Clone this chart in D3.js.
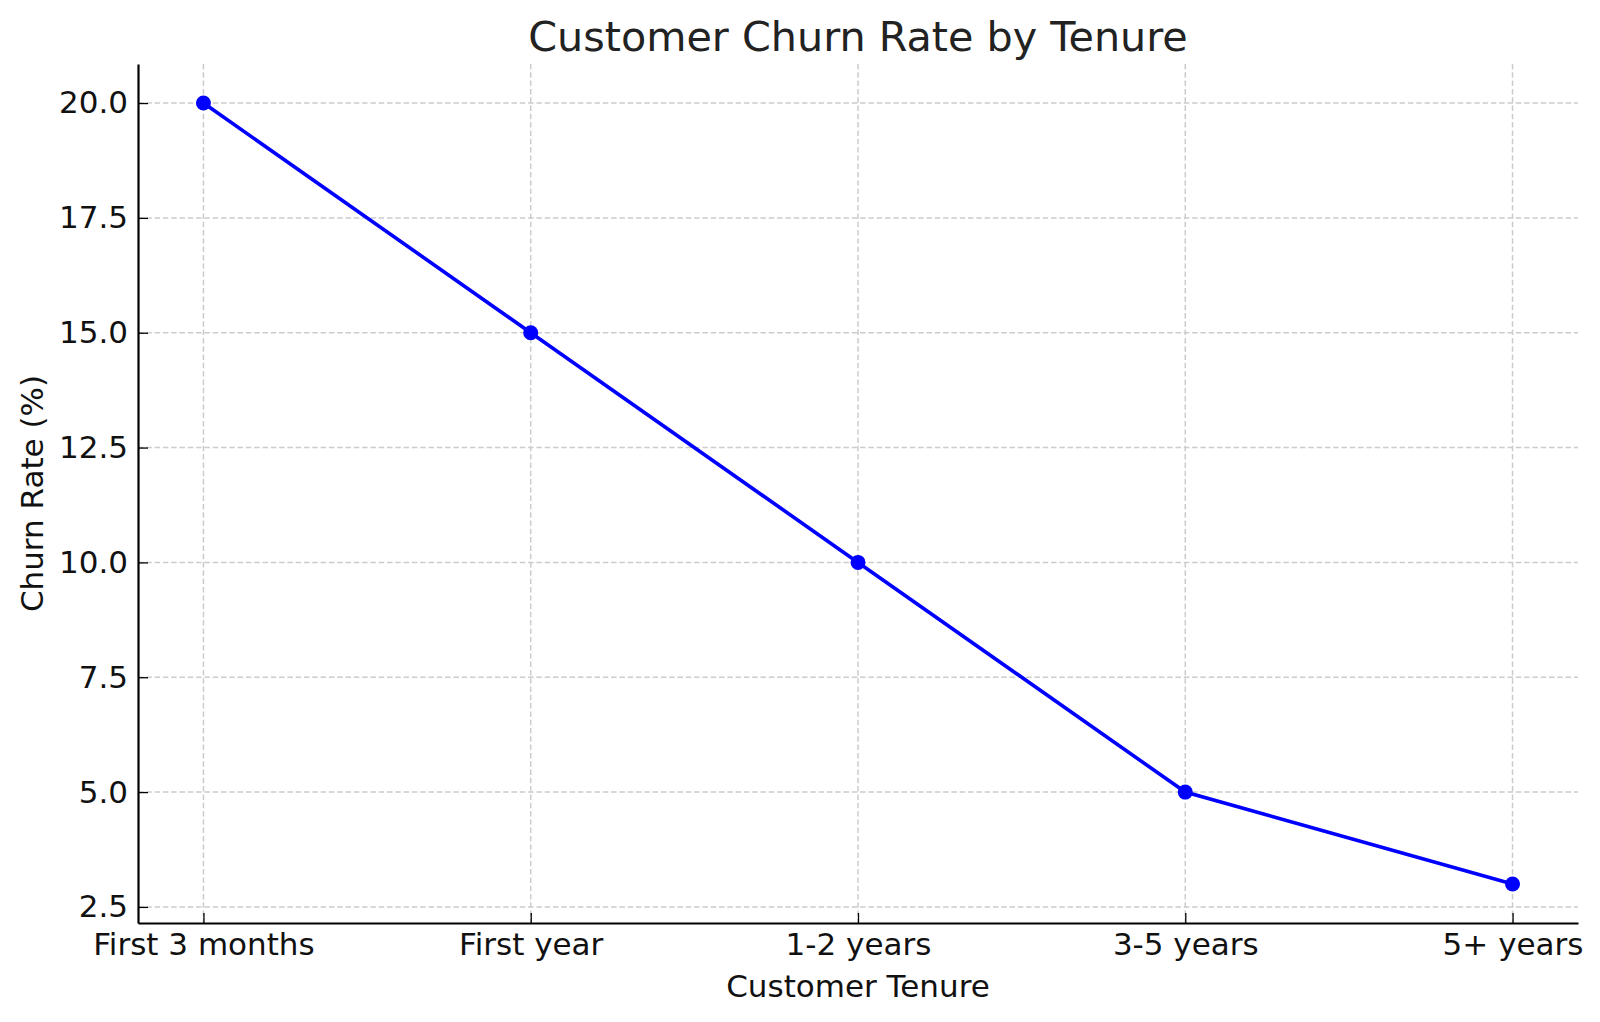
<!DOCTYPE html>
<html>
<head>
<meta charset="utf-8">
<script src="https://cdn.jsdelivr.net/npm/d3@7"></script>
<style>
  body { margin: 0; background: #fff; }
  text { font-family: "DejaVu Sans", sans-serif; }
</style>
</head>
<body>
<script>
// data
var categories = ["First 3 months", "First year", "1-2 years", "3-5 years", "5+ years"];
var churnRate = [20, 15, 10, 5, 3];
var yTicks = [2.5, 5.0, 7.5, 10.0, 12.5, 15.0, 17.5, 20.0];

var W = 1600, H = 1022;
var margin = {top: 64, right: 22, bottom: 99, left: 138};
var width = W - margin.left - margin.right,
    height = H - margin.top - margin.bottom;

var svg = d3.select("body").append("svg")
    .attr("width", W)
    .attr("height", H);

var plot = svg.append("g")
    .attr("transform", "translate(" + margin.left + "," + margin.top + ")");

// matplotlib style 5% padding on both axes
var xScale = d3.scaleLinear()
    .domain([-0.2, categories.length - 1 + 0.2])
    .range([0, width]);

var yMin = d3.min(churnRate), yMax = d3.max(churnRate);
var pad = (yMax - yMin) * 0.05;
var yScale = d3.scaleLinear()
    .domain([yMin - pad, yMax + pad])
    .range([height, 0]);

// grid
var grid = plot.append("g").attr("class", "grid");
grid.selectAll("line.h")
    .data(yTicks)
    .enter().append("line")
    .attr("x1", 0).attr("x2", width)
    .attr("y1", function(d) { return yScale(d); })
    .attr("y2", function(d) { return yScale(d); })
    .style("stroke", "#cccccc")
    .style("stroke-width", 1.5)
    .style("stroke-dasharray", "5.5,2.8");
grid.selectAll("line.v")
    .data(categories)
    .enter().append("line")
    .attr("y1", 0).attr("y2", height)
    .attr("x1", function(d, i) { return xScale(i); })
    .attr("x2", function(d, i) { return xScale(i); })
    .style("stroke", "#cccccc")
    .style("stroke-width", 1.5)
    .style("stroke-dasharray", "5.5,2.8");

// axes (ticks point inward)
var xAxis = plot.append("g")
    .attr("transform", "translate(0," + height + ")")
    .call(d3.axisBottom(xScale)
        .tickValues(d3.range(categories.length))
        .tickFormat(function(i) { return categories[i]; })
        .tickSize(-10)
        .tickPadding(10)
        .tickSizeOuter(0));

var yAxis = plot.append("g")
    .call(d3.axisLeft(yScale)
        .tickValues(yTicks)
        .tickFormat(d3.format(".1f"))
        .tickSize(-10)
        .tickPadding(10)
        .tickSizeOuter(0));

[xAxis, yAxis].forEach(function(ax) {
    ax.select(".domain").style("stroke", "#000").style("stroke-width", 2.2);
    ax.selectAll(".tick line").style("stroke", "#000").style("stroke-width", 1.3);
    ax.selectAll(".tick text")
        .style("font-size", "31px")
        .style("font-family", "DejaVu Sans")
        .attr("fill", "#111");
});

// line + markers
var line = d3.line()
    .x(function(d, i) { return xScale(i); })
    .y(function(d) { return yScale(d); });

plot.append("path")
    .datum(churnRate)
    .attr("d", line)
    .style("fill", "none")
    .style("stroke", "#0000ff")
    .style("stroke-width", 3.6);

plot.selectAll("circle.pt")
    .data(churnRate)
    .enter().append("circle")
    .attr("class", "pt")
    .attr("cx", function(d, i) { return xScale(i); })
    .attr("cy", function(d) { return yScale(d); })
    .attr("r", 7.5)
    .style("fill", "#0000ff");

// title and axis labels
svg.append("text")
    .attr("x", margin.left + width / 2)
    .attr("y", 51)
    .attr("text-anchor", "middle")
    .attr("fill", "#222")
    .style("font-size", "41.3px")
    .text("Customer Churn Rate by Tenure");

svg.append("text")
    .attr("x", margin.left + width / 2)
    .attr("y", 997)
    .attr("text-anchor", "middle")
    .attr("fill", "#111")
    .style("font-size", "31px")
    .text("Customer Tenure");

svg.append("text")
    .attr("transform", "translate(43," + (margin.top + height / 2) + ") rotate(-90)")
    .attr("text-anchor", "middle")
    .attr("fill", "#111")
    .style("font-size", "31px")
    .text("Churn Rate (%)");
</script>
</body>
</html>
